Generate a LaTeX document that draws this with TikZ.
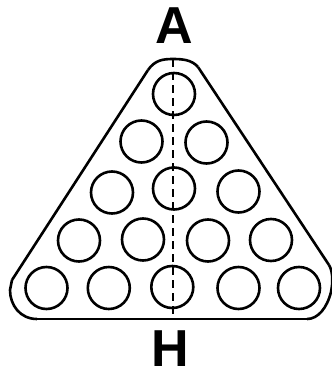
\documentclass[tikz,border=0pt]{standalone}
\usepackage{fontspec}
\setmainfont{Liberation Sans}

\tikzset{every picture/.style={line width=2.6pt}}

\begin{document}
\begin{tikzpicture}[x=1pt,y=1pt,yscale=-1,xscale=1]
\useasboundingbox (0,0) rectangle (332,370);

% rack outline
\draw [line width=2.6]    (148,70) .. controls (155,60) and (163,59) .. (173,59) .. controls (183,59) and (192,60) .. (198,67) ;
\draw [line width=2.6]    (198,67) -- (329,265) ;
\draw [line width=2.6]    (329,265) .. controls (333,272) and (333,282) .. (331,292) .. controls (327,308) and (318,319) .. (307,319) ;
\draw [line width=2.6]    (307,319) -- (37,319) ;
\draw [line width=2.6]    (37,319) .. controls (20,319) and (10,305) .. (10,290) -- (12,280) ;
\draw [line width=2.6]    (12,280) -- (148,70) ;

% balls
\draw [line width=2.6]  (174,94) circle (21) ;
\draw [line width=2.6]  (141.5,141.5) circle (21) ;
\draw [line width=2.6]  (206.5,142.5) circle (21) ;
\draw [line width=2.6]  (112,192.5) circle (21) ;
\draw [line width=2.6]  (174,188.5) circle (21) ;
\draw [line width=2.6]  (238.5,191.5) circle (21) ;
\draw [line width=2.6]  (79,240.5) circle (21) ;
\draw [line width=2.6]  (143,239.5) circle (21) ;
\draw [line width=2.6]  (208,240.5) circle (21) ;
\draw [line width=2.6]  (271,240) circle (21) ;
\draw [line width=2.6]  (46.5,288) circle (21) ;
\draw [line width=2.6]  (108.8,288) circle (21) ;
\draw [line width=2.6]  (172.3,287) circle (21) ;
\draw [line width=2.6]  (238.5,288) circle (21) ;
\draw [line width=2.6]  (299,288) circle (21) ;

% axis
\coordinate (apex) at (173,59) ;
\coordinate (foot) at (173,319) ;
\draw [line width=2.6] [dash pattern={on 8pt off 5pt}]  (apex) -- (foot) ;

\node (lblA) at (174,43.3) [anchor=base][inner sep=0pt]  {\fontsize{52}{52}\selectfont\bfseries A};
\node (lblH) at (170.5,366.7) [anchor=base][inner sep=0pt]  {\fontsize{52}{52}\selectfont\bfseries H};
\end{tikzpicture}
\end{document}
